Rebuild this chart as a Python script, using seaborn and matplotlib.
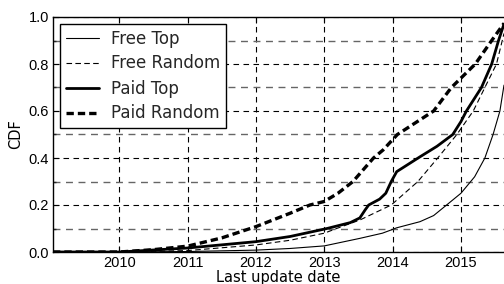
import matplotlib
matplotlib.use("Agg")
import matplotlib.pyplot as plt
from matplotlib.ticker import MultipleLocator, FuncFormatter
import seaborn as sns
import pandas as pd

# values (x = fractional year, y = CDF)
free_top_x = [2009.03, 2010.0, 2011.0, 2012.0, 2012.5, 2013.0, 2013.52, 2013.85, 2013.98,
              2014.06, 2014.4, 2014.6, 2014.79, 2015.0, 2015.2, 2015.35, 2015.47, 2015.57, 2015.63]
free_top_y = [0.0, 0.0, 0.002, 0.008, 0.015, 0.026, 0.058, 0.08, 0.094,
              0.103, 0.129, 0.155, 0.2, 0.25, 0.32, 0.4, 0.5, 0.6, 0.71]

free_random_x = [2009.03, 2010.0, 2011.0, 2012.0, 2012.5, 2013.0, 2013.18, 2013.52, 2013.98,
                 2014.37, 2014.66, 2014.94, 2015.18, 2015.35, 2015.52, 2015.63]
free_random_y = [0.0, 0.0, 0.006, 0.03, 0.05, 0.08, 0.1, 0.136, 0.2,
                 0.3, 0.4, 0.5, 0.6, 0.7, 0.8, 0.93]

paid_top_x = [2009.03, 2010.0, 2011.0, 2012.0, 2012.5, 2013.04, 2013.38, 2013.52, 2013.6, 2013.65,
              2013.81, 2013.9, 2013.98, 2014.06, 2014.4, 2014.65, 2014.88, 2015.0, 2015.08, 2015.3,
              2015.45, 2015.55, 2015.63]
paid_top_y = [0.0, 0.0, 0.017, 0.044, 0.066, 0.1, 0.125, 0.145, 0.18, 0.2,
              0.225, 0.25, 0.3, 0.342, 0.405, 0.45, 0.5, 0.555, 0.6, 0.7,
              0.8, 0.9, 0.97]

paid_random_x = [2009.03, 2010.0, 2010.5, 2011.0, 2011.5, 2012.0, 2012.5, 2012.79, 2013.0, 2013.2,
                 2013.42, 2013.72, 2013.86, 2014.07, 2014.6, 2014.86, 2015.21, 2015.45, 2015.63]
paid_random_y = [0.0, 0.0, 0.01, 0.025, 0.06, 0.108, 0.165, 0.2, 0.215, 0.25,
                 0.3, 0.4, 0.434, 0.5, 0.6, 0.7, 0.8, 0.9, 0.973]

years = [2010, 2011, 2012, 2013, 2014, 2015]

sns.set_theme(style="white")
plt.rcParams["font.family"] = ["DejaVu Sans"]

fig = plt.figure(figsize=(5.04, 2.84), dpi=100)
ax = fig.add_axes([53 / 504, 1 - 252 / 284, (504 - 53) / 504, (252 - 17) / 284])

series = [
    ("Free Top", free_top_x, free_top_y, 0.8, "-"),
    ("Free Random", free_random_x, free_random_y, 0.8, (0, (5, 3))),
    ("Paid Top", paid_top_x, paid_top_y, 2.0, "-"),
    ("Paid Random", paid_random_x, paid_random_y, 2.4, (0, (2.2, 1.2))),
]
for name, xs, ys, lw, ls in series:
    df = pd.DataFrame({"date": xs, "cdf": ys})
    sns.lineplot(df, x="date", y="cdf", ax=ax, color="black", lw=lw,
                 linestyle=ls, estimator=None, label=name)

ax.set_xlim(2009.03, 2015.63)
ax.set_ylim(0, 1.0)
ax.set_xticks(years)
ax.xaxis.set_major_formatter(FuncFormatter(lambda v, p: f"{int(v)}"))
ax.yaxis.set_major_locator(MultipleLocator(0.2))
ax.yaxis.set_minor_locator(MultipleLocator(0.1))
ax.yaxis.set_major_formatter(FuncFormatter(lambda v, p: f"{v:.1f}"))

ax.grid(True, which="major", color="black", linestyle=(0, (5, 4)), lw=0.8)
ax.grid(True, which="minor", axis="y", color="#666666", linestyle=(0, (5, 4)), lw=1.0)
ax.set_axisbelow(True)

ax.tick_params(axis="both", which="major", direction="in", length=4, width=0.8,
               labelsize=10.5, pad=3, top=True, right=False, bottom=True, left=True,
               color="black", labelcolor="black")
ax.tick_params(axis="y", which="minor", direction="in", length=2, left=True)
for lab in ax.get_xticklabels() + ax.get_yticklabels():
    lab.set_family(["Liberation Sans", "DejaVu Sans"])

for side in ["left", "bottom", "top"]:
    ax.spines[side].set_color("black")
    ax.spines[side].set_linewidth(1.0)
ax.spines["right"].set_visible(False)

ax.set_xlabel("Last update date", fontsize=10.5, color="black", labelpad=0)
ax.set_ylabel("CDF", fontsize=10.5, color="black", labelpad=4)

leg = ax.legend(loc="upper left", fontsize=12, handlelength=2.0, frameon=True,
                fancybox=False, framealpha=1, edgecolor="black",
                borderaxespad=0.4, borderpad=0.35, labelspacing=0.42, handletextpad=0.75)
leg.get_frame().set_linewidth(1.0)

fig.savefig("out.png", dpi=100)
